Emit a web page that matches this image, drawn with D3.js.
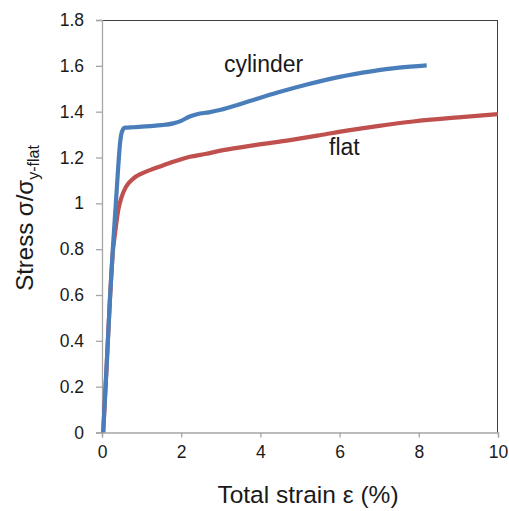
<!DOCTYPE html>
<html>
<head>
<meta charset="utf-8">
<script src="https://cdn.jsdelivr.net/npm/d3@7"></script>
<style>
  html, body { margin: 0; padding: 0; background: #fff; }
  svg { display: block; font-family: "Liberation Sans", Arial, sans-serif; }
</style>
</head>
<body>
<svg id="chart" width="509" height="511"></svg>
<script>
// ---- data ----
const cylinderStrain = [0.03, 0.12, 0.2, 0.28, 0.35, 0.41, 0.46, 0.51, 0.58, 0.8, 1.2, 1.5, 1.8, 2.0, 2.2, 2.4, 2.7, 3.0, 3.4, 3.8, 4.5, 5.2, 6.0, 6.8, 7.5, 8.2];
const cylinderStress = [0, 0.3, 0.58, 0.82, 1.0, 1.16, 1.27, 1.315, 1.33, 1.332, 1.337, 1.341, 1.349, 1.36, 1.378, 1.389, 1.397, 1.408, 1.428, 1.45, 1.487, 1.52, 1.552, 1.576, 1.592, 1.602];
const flatStrain = [0.03, 0.12, 0.2, 0.28, 0.33, 0.41, 0.5, 0.6, 0.79, 1.0, 1.21, 1.5, 1.8, 2.22, 2.6, 3.06, 3.9, 4.75, 5.5, 6.18, 7.0, 7.86, 9.0, 10];
const flatStress = [0, 0.3, 0.58, 0.8, 0.87, 0.97, 1.03, 1.07, 1.108, 1.13, 1.145, 1.163, 1.181, 1.203, 1.215, 1.232, 1.255, 1.276, 1.297, 1.317, 1.338, 1.357, 1.375, 1.389];
const xTickValues = [0, 2, 4, 6, 8, 10];
const xTickLabels = ["0", "2", "4", "6", "8", "10"];
const yTickValues = [0, 0.2, 0.4, 0.6, 0.8, 1, 1.2, 1.4, 1.6, 1.8];
const yTickLabels = ["0", "0.2", "0.4", "0.6", "0.8", "1", "1.2", "1.4", "1.6", "1.8"];
const seriesNames = ["flat", "cylinder"];
const seriesColors = ["#c0504d", "#4a7ebb"];

// ---- layout ----
const svg = d3.select("#chart");
const margin = { left: 102, top: 20, right: 11, bottom: 78.5 };
const W = 509 - margin.left - margin.right;
const H = 511 - margin.top - margin.bottom;
const g = svg.append("g").attr("transform", `translate(${margin.left},${margin.top})`);

const x = d3.scaleLinear().domain([0, 10]).range([0, W]);
const y = d3.scaleLinear().domain([0, 1.8]).range([H, 0]);

// frame top/right
g.append("line").attr("x1", 0).attr("x2", W).attr("y1", 0.5).attr("y2", 0.5).attr("stroke", "#404040").attr("stroke-width", 1);
g.append("line").attr("x1", W - 0.5).attr("x2", W - 0.5).attr("y1", 0).attr("y2", H).attr("stroke", "#404040").attr("stroke-width", 1);

// axes
const yAxis = d3.axisLeft(y).tickValues(yTickValues)
  .tickFormat((d, i) => yTickLabels[i]).tickSize(6).tickPadding(12);
const xAxis = d3.axisBottom(x).tickValues(xTickValues)
  .tickFormat((d, i) => xTickLabels[i]).tickSize(5).tickPadding(8);

const gy = g.append("g").call(yAxis);
const gx = g.append("g").attr("transform", `translate(0,${H})`).call(xAxis);
[gx, gy].forEach(a => {
  a.select(".domain").attr("stroke", "#a6a6a6").attr("stroke-width", 1.3);
  a.selectAll(".tick line").attr("stroke", "#a6a6a6").attr("stroke-width", 1.3);
  a.selectAll(".tick text").attr("fill", "#1a1a1a").style("font-size", "17.5px")
    .style("font-family", '"Liberation Sans", Arial, sans-serif');
});

// lines
svg.append("defs").append("clipPath").attr("id", "plotclip")
  .append("rect").attr("x", -3).attr("y", -3).attr("width", W + 3).attr("height", H + 3);

const line = d3.line().x(d => x(d[0])).y(d => y(d[1])).curve(d3.curveMonotoneX);
const series = [
  d3.zip(flatStrain, flatStress),
  d3.zip(cylinderStrain, cylinderStress)
];
g.append("g").attr("clip-path", "url(#plotclip)")
  .selectAll("path").data(series).join("path")
  .attr("d", line)
  .attr("fill", "none")
  .attr("stroke", (d, i) => seriesColors[i])
  .attr("stroke-width", 4.2)
  .attr("stroke-linejoin", "round")
  .attr("stroke-linecap", "butt");

// series labels
g.append("text").attr("x", x(4.08)).attr("y", y(1.575)).attr("text-anchor", "middle")
  .style("font-size", "23px").attr("fill", "#1a1a1a").text(seriesNames[1]);
g.append("text").attr("x", x(6.12)).attr("y", y(1.21)).attr("text-anchor", "middle")
  .style("font-size", "23px").attr("fill", "#1a1a1a").text(seriesNames[0]);

// axis titles
svg.append("text").attr("x", 308).attr("y", 503).attr("text-anchor", "middle")
  .style("font-size", "24.5px").attr("fill", "#1a1a1a").text("Total strain ε (%)");

const yt = svg.append("text").attr("transform", "translate(33,218) rotate(-90)")
  .attr("text-anchor", "middle").style("font-size", "24px").attr("fill", "#1a1a1a");
yt.append("tspan").text("Stress σ/σ");
yt.append("tspan").attr("dy", 6).style("font-size", "16px").text("y-flat");
</script>
</body>
</html>
